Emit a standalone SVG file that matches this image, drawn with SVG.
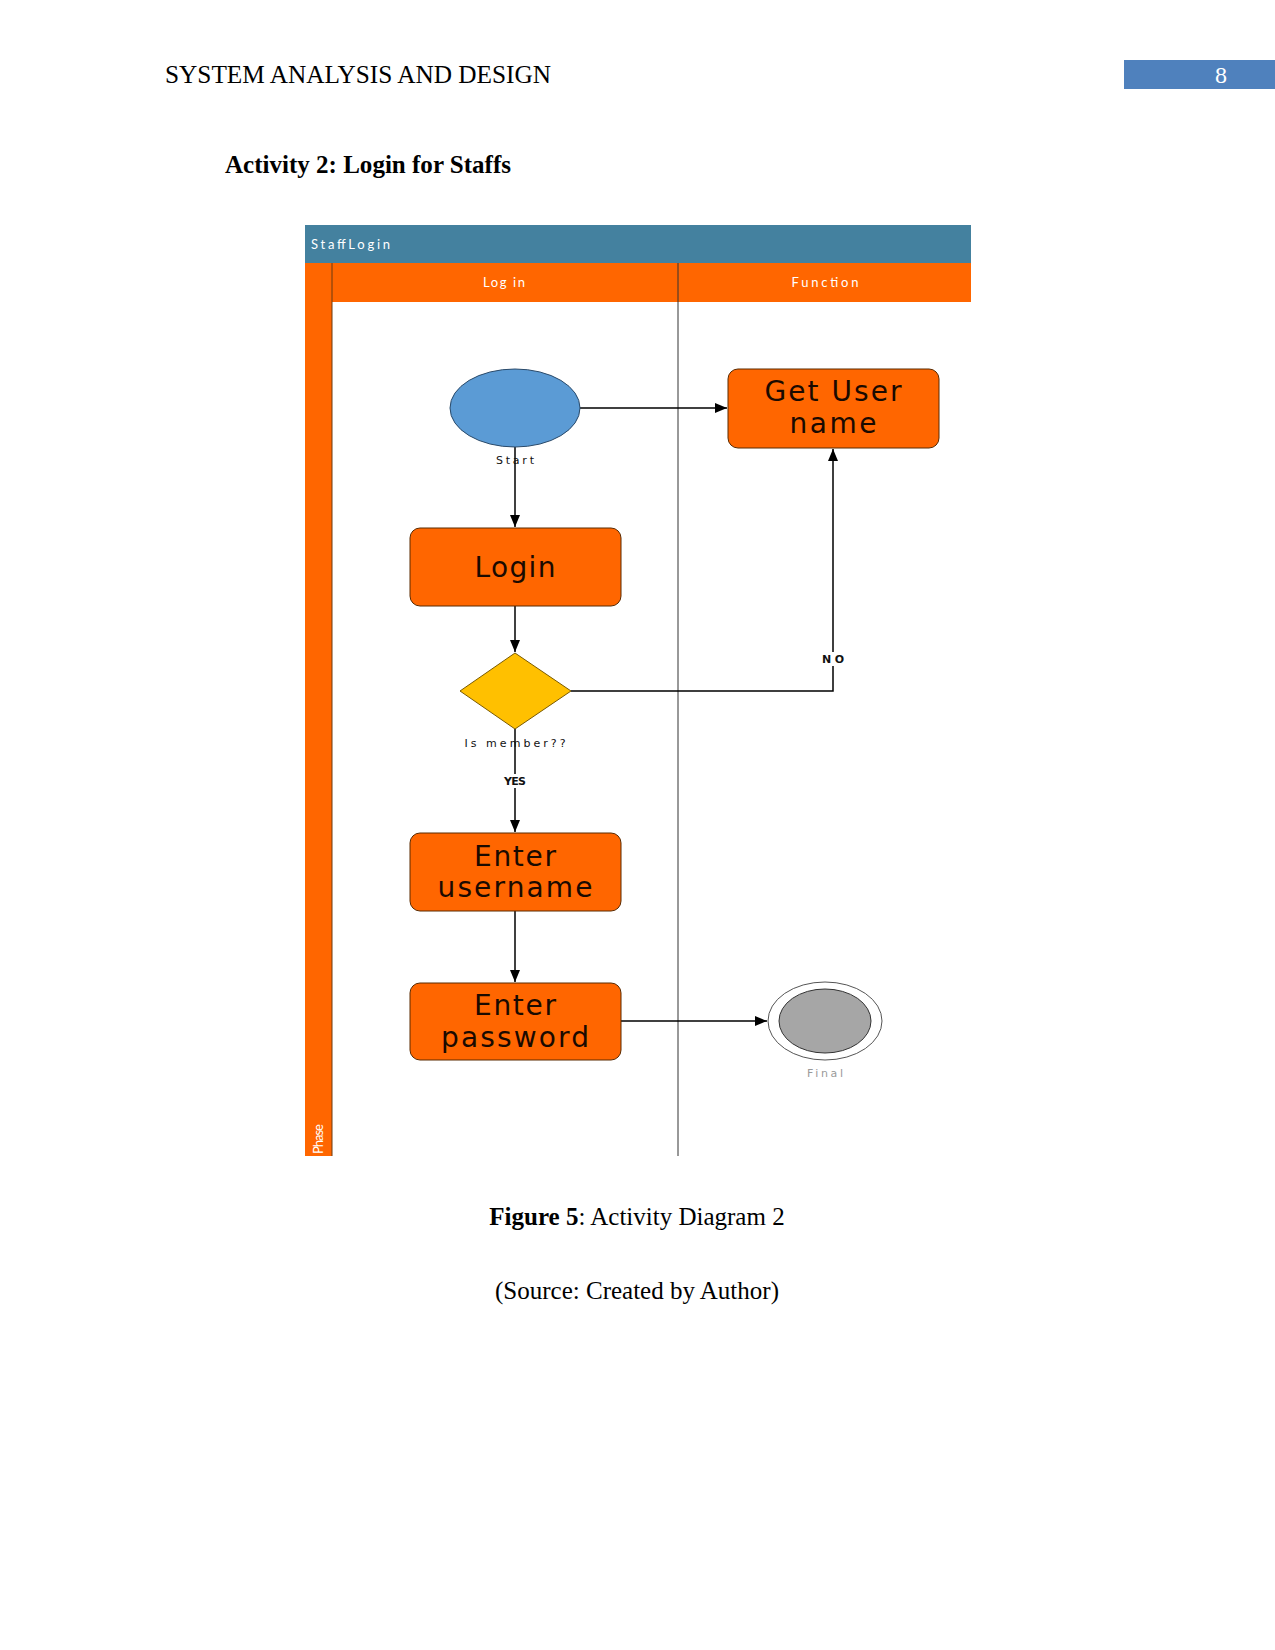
<svg xmlns="http://www.w3.org/2000/svg" width="1275" height="1650" viewBox="0 0 1275 1650">
<defs>
<style>
.doc{font-family:"Liberation Serif","Times New Roman",serif;fill:#000}
.node{fill:#FF6600;stroke:#5a2a00;stroke-width:1}
.ntxt{font-family:"DejaVu Sans","Open Sans",sans-serif;font-size:28px;fill:#1a0a00;text-anchor:middle}
.lbl{font-family:"DejaVu Sans","Open Sans",sans-serif;font-size:11px;fill:#111;text-anchor:middle}
.wt{font-family:Lato,"Open Sans",sans-serif;font-size:13px;fill:#fff}
.edge{fill:none;stroke:#000;stroke-width:1.5}
</style>
<marker id="ah" viewBox="0 0 12 10" refX="12" refY="5" markerWidth="12" markerHeight="10" markerUnits="userSpaceOnUse" orient="auto">
<path d="M0,0 L12,5 L0,10 z" fill="#000"/>
</marker>
</defs>
<rect width="1275" height="1650" fill="#fff"/>

<!-- page header -->
<text class="doc" x="165" y="83" font-size="25" textLength="386" lengthAdjust="spacingAndGlyphs">SYSTEM ANALYSIS AND DESIGN</text>
<rect x="1124" y="60" width="151" height="29" fill="#4F81BD"/>
<text x="1221" y="83" font-family="Liberation Serif,serif" font-size="24" fill="#fff" text-anchor="middle">8</text>
<text class="doc" x="225" y="173" font-size="25" font-weight="bold" textLength="286" lengthAdjust="spacingAndGlyphs">Activity 2: Login for Staffs</text>

<!-- swimlane frame -->
<g id="swimlane">
<rect x="305" y="225" width="666" height="38" fill="#44819F"/>
<text class="wt" x="311" y="249" textLength="79">StaffLogin</text>
<rect x="305" y="263" width="666" height="39" fill="#FF6600"/>
<rect x="305" y="263" width="27" height="893" fill="#FF6600"/>
<line x1="332" y1="263" x2="332" y2="1156" stroke="#6b3a10" stroke-width="1"/>
<line x1="678" y1="263" x2="678" y2="1156" stroke="#333" stroke-width="1"/>
<text class="wt" x="504" y="287" text-anchor="middle" textLength="42">Log in</text>
<text class="wt" x="825" y="287" text-anchor="middle" textLength="67">Function</text>
<text class="wt" x="323" y="1154" transform="rotate(-90 323 1154)" font-size="13" textLength="30">Phase</text>
</g>

<!-- connectors -->
<g id="connectors">
<line class="edge" x1="580" y1="408" x2="727" y2="408" marker-end="url(#ah)"/>
<line class="edge" x1="515" y1="447" x2="515" y2="527" marker-end="url(#ah)"/>
<line class="edge" x1="515" y1="606" x2="515" y2="652" marker-end="url(#ah)"/>
<polyline class="edge" points="571,691 833,691 833,449" marker-end="url(#ah)"/>
<line class="edge" x1="515" y1="729" x2="515" y2="832" marker-end="url(#ah)"/>
<line class="edge" x1="515" y1="911" x2="515" y2="982" marker-end="url(#ah)"/>
<line class="edge" x1="621" y1="1021" x2="767" y2="1021" marker-end="url(#ah)"/>
<rect x="820" y="652" width="26" height="14" fill="#fff"/>
<text class="lbl" x="833" y="663" font-weight="bold" textLength="22">NO</text>
<rect x="502" y="774" width="26" height="14" fill="#fff"/>
<text class="lbl" x="515" y="785" font-weight="bold" textLength="22">YES</text>
</g>

<!-- nodes -->
<g id="start">
<ellipse cx="515" cy="408" rx="65" ry="39" fill="#5B9BD5" stroke="#2a4a6a" stroke-width="1"/>
<text class="lbl" x="515" y="464" textLength="38">Start</text>
</g>
<g id="get-user-name">
<rect class="node" x="728" y="369" width="211" height="79" rx="10"/>
<text class="ntxt" x="833" y="401" textLength="137">Get User</text>
<text class="ntxt" x="833" y="433" textLength="87">name</text>
</g>
<g id="login">
<rect class="node" x="410" y="528" width="211" height="78" rx="10"/>
<text class="ntxt" x="515" y="577" textLength="81">Login</text>
</g>
<g id="is-member">
<polygon points="515,653 571,691 515,729 460,691" fill="#FFC000" stroke="#7a5a00" stroke-width="1"/>
<text class="lbl" x="515" y="747" font-size="12" textLength="101">Is member??</text>
</g>
<g id="enter-username">
<rect class="node" x="410" y="833" width="211" height="78" rx="10"/>
<text class="ntxt" x="515" y="866" textLength="82">Enter</text>
<text class="ntxt" x="515" y="897" textLength="155">username</text>
</g>
<g id="enter-password">
<rect class="node" x="410" y="983" width="211" height="77" rx="10"/>
<text class="ntxt" x="515" y="1015" textLength="82">Enter</text>
<text class="ntxt" x="515" y="1047" textLength="148">password</text>
</g>
<g id="final">
<ellipse cx="825" cy="1021" rx="57" ry="39" fill="#fff" stroke="#555" stroke-width="1"/>
<ellipse cx="825" cy="1021" rx="46" ry="32" fill="#A6A6A6" stroke="#333" stroke-width="1"/>
<text class="lbl" x="825" y="1077" style="fill:#9a9a9a" textLength="36">Final</text>
</g>

<!-- caption -->
<text class="doc" x="637" y="1225" font-size="25" text-anchor="middle"><tspan font-weight="bold">Figure 5</tspan>: Activity Diagram 2</text>
<text class="doc" x="637" y="1299" font-size="25" text-anchor="middle">(Source: Created by Author)</text>
</svg>
